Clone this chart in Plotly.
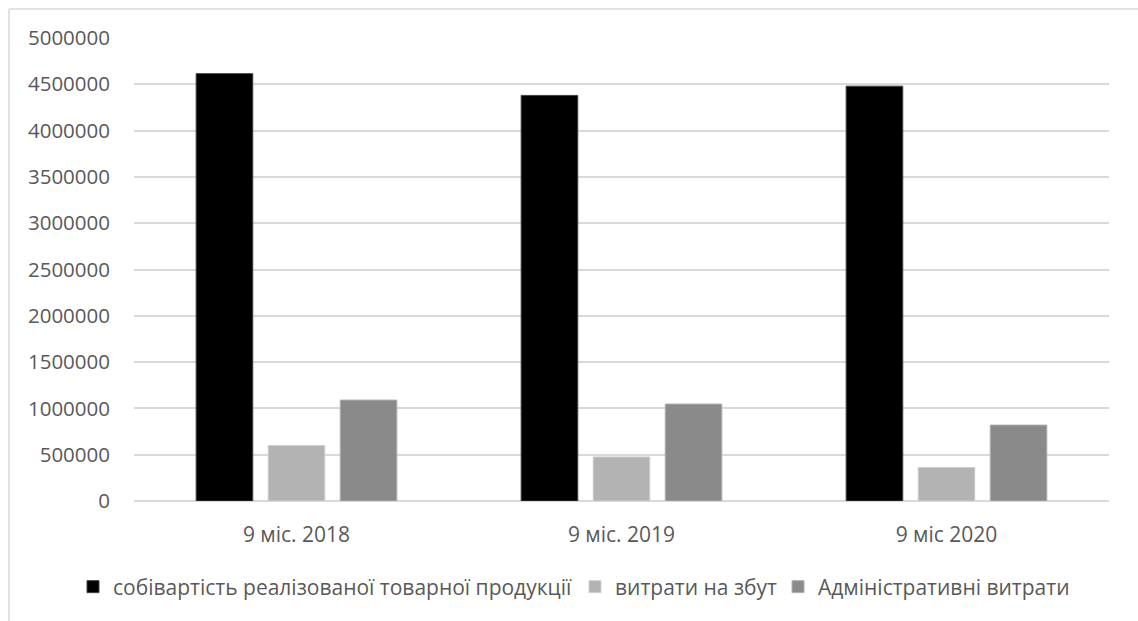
import plotly.graph_objects as go

categories = ["9 міс. 2018", "9 міс. 2019", "9 міс 2020"]
series_names = [
    "собівартість реалізованої товарної продукції",
    "витрати на збут",
    "Адміністративні витрати",
]
cost_values = [4615000, 4380000, 4480000]
sales_values = [600000, 476000, 362000]
admin_values = [1090000, 1047000, 820000]
y_ticks = [0, 500000, 1000000, 1500000, 2000000, 2500000, 3000000, 3500000, 4000000, 4500000, 5000000]

W, H = 1138, 621
ML, MR, MT, MB = 134, 29, 38, 120
PW = W - ML - MR
PH = H - MT - MB

FONT = "Open Sans"
TXT = "#595959"

fig = go.Figure()
fig.add_trace(go.Bar(x=categories, y=cost_values, name=series_names[0], legend="legend",
                     marker=dict(color="#000000", line=dict(color="#404040", width=1))))
fig.add_trace(go.Bar(x=categories, y=sales_values, name=series_names[1], legend="legend2",
                     marker=dict(color="#b3b3b3", line=dict(color="#d0d0d0", width=1))))
fig.add_trace(go.Bar(x=categories, y=admin_values, name=series_names[2], legend="legend3",
                     marker=dict(color="#8a8a8a", line=dict(color="#b0b0b0", width=1))))

def px_to_paper_x(px):
    return (px - ML) / PW

def px_to_paper_y(py):
    return (H - MB - py) / PH

def legend_at(text_left_px):
    return dict(orientation="h", xref="container", yref="container",
                x=(text_left_px - 40) / W, xanchor="left",
                y=1 - 587 / H, yanchor="middle",
                font=dict(family=FONT, size=21, color=TXT),
                itemwidth=30, bgcolor="rgba(0,0,0,0)")

fig.update_layout(
    width=W, height=H,
    margin=dict(l=ML, r=MR, t=MT, b=MB, pad=0, autoexpand=False),
    paper_bgcolor="white", plot_bgcolor="white",
    barmode="group", bargap=0.335, bargroupgap=0.214,
    font=dict(family=FONT, size=21, color=TXT),
    showlegend=True,
    legend=legend_at(113),
    legend2=legend_at(615),
    legend3=legend_at(818),
    xaxis=dict(showgrid=False, showline=False, zeroline=False, ticks="",
               tickfont=dict(family=FONT, size=21, color=TXT),
               ticklabelstandoff=19),
    yaxis=dict(range=[0, 5000000], tickvals=y_ticks,
               ticktext=[str(v) for v in y_ticks],
               showgrid=True, gridcolor="#d9d9d9", gridwidth=1.5,
               zeroline=True, zerolinecolor="#d9d9d9", zerolinewidth=1.5,
               showline=False, ticks="",
               tickfont=dict(family=FONT, size=20.5, color=TXT),
               ticklabelstandoff=23),
    shapes=[
        dict(type="line", xref="paper", yref="paper",
             x0=px_to_paper_x(9), x1=px_to_paper_x(1140),
             y0=px_to_paper_y(9), y1=px_to_paper_y(9),
             line=dict(color="#d9d9d9", width=1.5)),
        dict(type="line", xref="paper", yref="paper",
             x0=px_to_paper_x(9), x1=px_to_paper_x(9),
             y0=px_to_paper_y(9), y1=px_to_paper_y(625),
             line=dict(color="#d9d9d9", width=1.5)),
    ],
)

fig.write_html("out.html")
